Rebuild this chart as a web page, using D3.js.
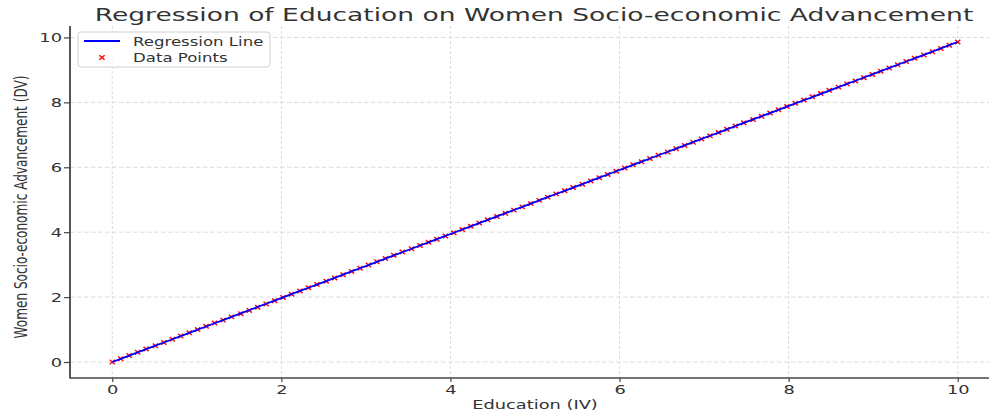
<!DOCTYPE html>
<html>
<head>
<meta charset="utf-8">
<script src="https://cdn.jsdelivr.net/npm/d3@7"></script>
<style>
  html, body { margin: 0; padding: 0; background: #fff; }
  svg { display: block; }
  text { font-family: "DejaVu Sans", sans-serif; fill: #333; }
</style>
</head>
<body>
<svg id="chart" width="989" height="414"></svg>
<script>
// Observations: education level (IV) and women's socio-economic advancement (DV)
const educationValues = [0.00, 0.10, 0.20, 0.30, 0.40, 0.51, 0.61, 0.71, 0.81, 0.91,
  1.01, 1.11, 1.21, 1.31, 1.41, 1.52, 1.62, 1.72, 1.82, 1.92,
  2.02, 2.12, 2.22, 2.32, 2.42, 2.53, 2.63, 2.73, 2.83, 2.93,
  3.03, 3.13, 3.23, 3.33, 3.43, 3.54, 3.64, 3.74, 3.84, 3.94,
  4.04, 4.14, 4.24, 4.34, 4.44, 4.55, 4.65, 4.75, 4.85, 4.95,
  5.05, 5.15, 5.25, 5.35, 5.45, 5.56, 5.66, 5.76, 5.86, 5.96,
  6.06, 6.16, 6.26, 6.36, 6.46, 6.57, 6.67, 6.77, 6.87, 6.97,
  7.07, 7.17, 7.27, 7.37, 7.47, 7.58, 7.68, 7.78, 7.88, 7.98,
  8.08, 8.18, 8.28, 8.38, 8.48, 8.59, 8.69, 8.79, 8.89, 8.99,
  9.09, 9.19, 9.29, 9.39, 9.49, 9.60, 9.70, 9.80, 9.90, 10.00];

const advancementValues = [0.00, 0.10, 0.20, 0.30, 0.40, 0.50, 0.60, 0.70, 0.80, 0.90,
  1.00, 1.10, 1.20, 1.29, 1.39, 1.49, 1.59, 1.69, 1.79, 1.89,
  1.99, 2.09, 2.19, 2.29, 2.39, 2.49, 2.59, 2.69, 2.79, 2.89,
  2.99, 3.09, 3.19, 3.29, 3.39, 3.49, 3.59, 3.69, 3.78, 3.88,
  3.98, 4.08, 4.18, 4.28, 4.38, 4.48, 4.58, 4.68, 4.78, 4.88,
  4.98, 5.08, 5.18, 5.28, 5.38, 5.48, 5.58, 5.68, 5.78, 5.88,
  5.98, 6.08, 6.17, 6.27, 6.37, 6.47, 6.57, 6.67, 6.77, 6.87,
  6.97, 7.07, 7.17, 7.27, 7.37, 7.47, 7.57, 7.67, 7.77, 7.87,
  7.97, 8.07, 8.17, 8.27, 8.37, 8.47, 8.57, 8.66, 8.76, 8.86,
  8.96, 9.06, 9.16, 9.26, 9.36, 9.46, 9.56, 9.66, 9.76, 9.86];

// Fitted regression coefficients
const regressionSlope = 0.986;
const regressionIntercept = 0.0;

const xTicks = [0, 2, 4, 6, 8, 10];
const yTicks = [0, 2, 4, 6, 8, 10];

const titleText = "Regression of Education on Women Socio-economic Advancement";
const xLabelText = "Education (IV)";
const yLabelText = "Women Socio-economic Advancement (DV)";
const legendLabels = ["Regression Line", "Data Points"];

// ---- layout ----
const SX = 1.45;            // horizontal stretch applied to text glyphs
const plot = { left: 70, right: 1000, top: 26, bottom: 378 };

const svg = d3.select("#chart");

function pad(ext) {
  const m = (ext[1] - ext[0]) * 0.05;
  return [ext[0] - m, ext[1] + m];
}

const x = d3.scaleLinear()
  .domain(pad(d3.extent(educationValues)))
  .range([plot.left, plot.right]);
const y = d3.scaleLinear()
  .domain(pad(d3.extent(advancementValues)))
  .range([plot.bottom, plot.top]);

function stretchedText(sel, tx, ty, rotate, sx) {
  return sel.attr("transform",
    `translate(${tx},${ty}) scale(${sx || SX},1)` + (rotate ? ` rotate(${rotate})` : ""));
}

// grid
const grid = svg.append("g").attr("class", "grid");
grid.selectAll("line.gx").data(xTicks).join("line")
  .attr("x1", d => x(d)).attr("x2", d => x(d))
  .attr("y1", plot.top).attr("y2", plot.bottom)
  .attr("stroke", "#dcdcdc").attr("stroke-width", 1).attr("stroke-dasharray", "3,2");
grid.selectAll("line.gy").data(yTicks).join("line")
  .attr("y1", d => y(d)).attr("y2", d => y(d))
  .attr("x1", plot.left).attr("x2", plot.right)
  .attr("stroke", "#dcdcdc").attr("stroke-width", 1).attr("stroke-dasharray", "4.5,2.5");

// axes
const xAxis = d3.axisBottom(x).tickValues(xTicks).tickSize(4).tickPadding(3).tickFormat(d3.format("d"));
const yAxis = d3.axisLeft(y).tickValues(yTicks).tickSize(6).tickPadding(2).tickFormat(d3.format("d"));

const gx = svg.append("g").attr("transform", `translate(0,${plot.bottom})`).call(xAxis);
const gy = svg.append("g").attr("transform", `translate(${plot.left},0)`).call(yAxis);

[gx, gy].forEach(g => {
  g.select(".domain").remove();
  g.selectAll(".tick line").attr("stroke", "#444").attr("stroke-width", 1.2);
  g.selectAll(".tick text").attr("font-size", 12.3).attr("fill", "#333")
    .style("font-family", "DejaVu Sans");
});
gx.selectAll(".tick text").attr("y", null).attr("dy", null)
  .each(function() { stretchedText(d3.select(this), 0, 16, 0); })
  .attr("text-anchor", "middle");
gy.selectAll(".tick text").attr("x", null).attr("dy", null)
  .attr("dominant-baseline", "central")
  .each(function() { stretchedText(d3.select(this), -8, 0.5, 0); })
  .attr("text-anchor", "end");

// spines (left and bottom)
svg.append("line").attr("x1", plot.left).attr("x2", plot.left)
  .attr("y1", plot.top).attr("y2", plot.bottom + 0.6)
  .attr("stroke", "#444").attr("stroke-width", 1.8);
svg.append("line").attr("x1", plot.left).attr("x2", plot.right)
  .attr("y1", plot.bottom).attr("y2", plot.bottom)
  .attr("stroke", "#444").attr("stroke-width", 1.3);

// data points (red x markers)
const mx = 2.6, my = 2.2;
const xMarker = `M${-mx},${-my}L${mx},${my}M${-mx},${my}L${mx},${-my}`;
svg.append("g").selectAll("path").data(educationValues.map((v, i) => [v, advancementValues[i]]))
  .join("path")
  .attr("d", xMarker)
  .attr("transform", d => `translate(${x(d[0])},${y(d[1])})`)
  .attr("stroke", "#ff0000").attr("stroke-width", 1.4).attr("fill", "none");

// regression line
const line = d3.line().x(d => x(d)).y(d => y(regressionIntercept + regressionSlope * d));
svg.append("path").datum(educationValues)
  .attr("d", line)
  .attr("fill", "none").attr("stroke", "#0000ff").attr("stroke-width", 1.8);

// title
stretchedText(svg.append("text"), 534, 21, 0, 1.49)
  .attr("text-anchor", "middle").attr("font-size", 17.8).attr("fill", "#444")
  .text(titleText);

// axis labels
stretchedText(svg.append("text"), (plot.left + plot.right) / 2, 409, 0)
  .attr("text-anchor", "middle").attr("font-size", 12.3).attr("fill", "#333")
  .text(xLabelText);
stretchedText(svg.append("text"), 27, (plot.top + plot.bottom) / 2 + 5, -90)
  .attr("text-anchor", "middle").attr("font-size", 12.1).attr("fill", "#333")
  .text(yLabelText);

// legend
const legend = svg.append("g");
legend.append("rect")
  .attr("x", 78).attr("y", 32).attr("width", 192).attr("height", 35)
  .attr("rx", 3).attr("fill", "#fff").attr("fill-opacity", 0.8)
  .attr("stroke", "#d0d0d0").attr("stroke-width", 1);
legend.append("line").attr("x1", 84).attr("x2", 120).attr("y1", 41).attr("y2", 41)
  .attr("stroke", "#0000ff").attr("stroke-width", 1.8);
legend.append("path").attr("d", xMarker)
  .attr("transform", "translate(102,57.5)")
  .attr("stroke", "#ff0000").attr("stroke-width", 1.4).attr("fill", "none");
stretchedText(legend.append("text"), 133, 45.5, 0, 1.37)
  .attr("font-size", 12.1).attr("fill", "#333").text(legendLabels[0]);
stretchedText(legend.append("text"), 133, 61.5, 0, 1.37)
  .attr("font-size", 12.1).attr("fill", "#333").text(legendLabels[1]);
</script>
</body>
</html>
